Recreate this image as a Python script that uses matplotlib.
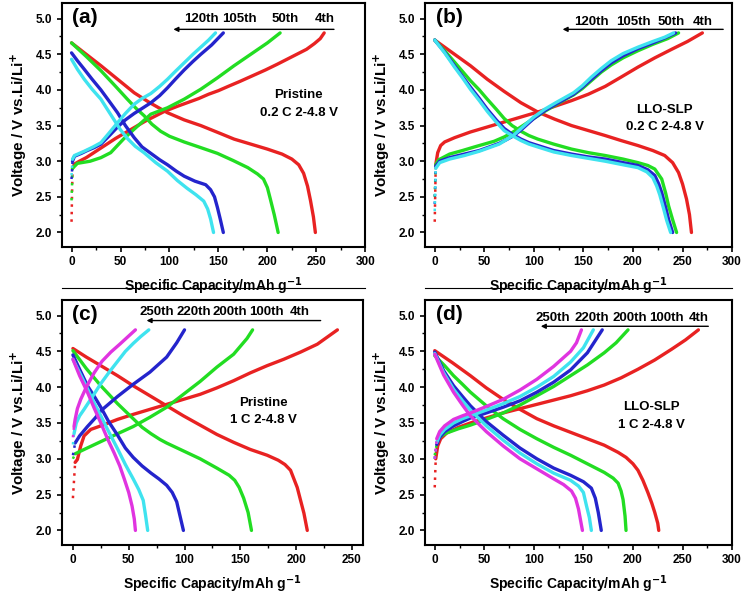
"""Charge/discharge profiles, pristine vs LLO-SLP, 0.2 C and 1 C."""

import matplotlib

matplotlib.use("Agg")
import matplotlib.pyplot as plt
from matplotlib.lines import Line2D
from matplotlib.ticker import MultipleLocator

plt.rcParams["font.family"] = ["Liberation Sans", "DejaVu Sans"]
plt.rcParams["font.weight"] = "bold"

RED = "#e82222"
GREEN = "#22dd22"
BLUE = "#2424cc"
CYAN = "#3fe3ef"
MAGENTA = "#e034e0"

# (capacity mAh/g, voltage V) points
# ---- (a) pristine 0.2 C
A_4TH_CH = [(0, 2.15), (1, 2.9), (3, 2.96), (8, 3.0), (15, 3.05), (25, 3.14), (35, 3.23), (45, 3.32),
            (55, 3.4), (65, 3.48), (75, 3.56), (85, 3.63), (95, 3.7), (108, 3.77), (120, 3.83), (130, 3.88),
            (140, 3.94), (150, 3.99), (160, 4.05), (172, 4.12), (185, 4.2), (198, 4.28), (210, 4.36),
            (220, 4.43), (230, 4.5), (240, 4.57), (248, 4.65), (254, 4.72), (258, 4.8)]
A_4TH_DIS = [(0, 4.66), (15, 4.5), (30, 4.34), (47, 4.15), (64, 3.96), (80, 3.82), (98, 3.68), (115, 3.58),
             (132, 3.5), (150, 3.4), (166, 3.31), (183, 3.24), (200, 3.17), (215, 3.1), (225, 3.03),
             (232, 2.95), (237, 2.83), (241, 2.65), (244, 2.45), (247, 2.22), (249, 2.0)]
A_50TH_CH = [(0, 2.45), (1, 2.9), (6, 2.97), (19, 3.0), (30, 3.05), (40, 3.12), (53, 3.31), (64, 3.45),
             (81, 3.66), (98, 3.75), (115, 3.87), (132, 4.01), (149, 4.17), (166, 4.34), (183, 4.5),
             (200, 4.66), (213, 4.8)]
A_50TH_DIS = [(0, 4.66), (15, 4.47), (30, 4.27), (45, 4.05), (57, 3.87), (66, 3.74), (74, 3.64), (82, 3.52),
              (91, 3.42), (100, 3.35), (115, 3.27), (130, 3.2), (149, 3.11), (165, 3.01), (180, 2.91),
              (190, 2.82), (196, 2.75), (200, 2.63), (203, 2.47), (207, 2.25), (211, 2.0)]
A_105TH_CH = [(0, 2.75), (1, 3.0), (3, 3.07), (10, 3.11), (16, 3.15), (23, 3.19), (30, 3.24), (38, 3.35),
              (47, 3.48), (55, 3.58), (64, 3.67), (72, 3.74), (81, 3.82), (90, 3.92), (98, 4.03),
              (106, 4.15), (115, 4.28), (124, 4.4), (132, 4.5), (143, 4.63), (155, 4.8)]
A_105TH_DIS = [(0, 4.52), (6, 4.41), (13, 4.29), (21, 4.15), (30, 4.0), (38, 3.85), (47, 3.68), (55, 3.5),
               (64, 3.33), (72, 3.2), (81, 3.11), (90, 3.02), (98, 2.95), (107, 2.86), (115, 2.79),
               (126, 2.72), (137, 2.67), (142, 2.6), (146, 2.5), (149, 2.35), (152, 2.18), (155, 2.0)]
A_120TH_CH = [(0, 2.8), (1, 3.03), (3, 3.08), (8, 3.11), (13, 3.14), (22, 3.2), (30, 3.26), (38, 3.39),
              (47, 3.54), (55, 3.67), (64, 3.8), (72, 3.88), (81, 3.95), (90, 4.05), (98, 4.15),
              (106, 4.26), (115, 4.38), (124, 4.5), (132, 4.6), (140, 4.7), (147, 4.8)]
A_120TH_DIS = [(0, 4.43), (6, 4.29), (13, 4.15), (21, 4.01), (30, 3.87), (36, 3.74), (43, 3.59), (50, 3.44),
               (57, 3.32), (65, 3.21), (74, 3.12), (86, 2.98), (98, 2.86), (108, 2.73), (118, 2.62),
               (127, 2.53), (135, 2.44), (139, 2.33), (142, 2.19), (145, 2.0)]

# ---- (b) LLO-SLP 0.2 C
B_4TH_CH = [(0, 2.15), (1, 2.95), (3, 3.12), (6, 3.22), (10, 3.27), (20, 3.33), (36, 3.41), (53, 3.48),
            (70, 3.55), (87, 3.62), (104, 3.69), (121, 3.77), (138, 3.85), (155, 3.94), (172, 4.05),
            (188, 4.18), (205, 4.32), (222, 4.45), (239, 4.57), (255, 4.68), (270, 4.8)]
B_4TH_DIS = [(0, 4.7), (18, 4.52), (36, 4.34), (53, 4.15), (70, 3.98), (87, 3.82), (104, 3.69),
             (121, 3.59), (138, 3.5), (155, 3.43), (172, 3.36), (188, 3.29), (205, 3.22), (220, 3.15),
             (232, 3.08), (240, 2.98), (246, 2.84), (250, 2.68), (254, 2.47), (257, 2.25), (259, 2.0)]
B_50TH_CH = [(0, 2.5), (1, 2.95), (4, 3.02), (15, 3.1), (28, 3.15), (40, 3.2), (50, 3.24), (60, 3.28),
             (70, 3.34), (78, 3.4), (89, 3.5), (100, 3.6), (111, 3.7), (122, 3.79), (132, 3.87), (140, 3.93),
             (149, 4.02), (158, 4.13), (168, 4.25), (178, 4.35), (190, 4.45), (205, 4.55), (220, 4.64),
             (235, 4.72), (246, 4.8)]
B_50TH_DIS = [(0, 4.7), (10, 4.55), (20, 4.39), (28, 4.26), (36, 4.13), (45, 4.0), (53, 3.87), (62, 3.73),
              (70, 3.6), (78, 3.5), (87, 3.42), (95, 3.36), (104, 3.31), (120, 3.24), (138, 3.17),
              (155, 3.12), (172, 3.08), (190, 3.03), (205, 2.98), (215, 2.94), (222, 2.89), (229, 2.75),
              (233, 2.55), (236, 2.37), (240, 2.18), (244, 2.0)]
B_105TH_CH = [(0, 2.4), (1, 2.93), (5, 3.0), (15, 3.05), (30, 3.1), (45, 3.15), (55, 3.2), (65, 3.25),
              (72, 3.3), (80, 3.36), (88, 3.45), (100, 3.6), (111, 3.71), (122, 3.8), (131, 3.87),
              (140, 3.94), (149, 4.04), (158, 4.15), (168, 4.27), (178, 4.38), (190, 4.48), (205, 4.58),
              (220, 4.66), (232, 4.73), (243, 4.8)]
B_105TH_DIS = [(0, 4.7), (10, 4.53), (20, 4.34), (28, 4.19), (36, 4.04), (45, 3.88), (53, 3.73),
               (62, 3.58), (70, 3.46), (78, 3.38), (87, 3.31), (95, 3.26), (104, 3.22), (120, 3.15),
               (138, 3.1), (155, 3.06), (172, 3.03), (190, 2.98), (205, 2.94), (215, 2.88), (222, 2.8),
               (226, 2.68), (229, 2.56), (233, 2.35), (236, 2.18), (240, 2.0)]
B_120TH_CH = [(0, 2.3), (1, 2.9), (5, 2.98), (15, 3.03), (30, 3.08), (45, 3.14), (55, 3.19), (65, 3.24),
              (72, 3.3), (80, 3.37), (88, 3.47), (100, 3.62), (111, 3.73), (122, 3.82), (131, 3.89),
              (140, 3.96), (149, 4.06), (158, 4.18), (168, 4.3), (178, 4.41), (190, 4.51), (205, 4.6),
              (220, 4.68), (232, 4.74), (241, 4.8)]
B_120TH_DIS = [(0, 4.7), (10, 4.52), (20, 4.32), (28, 4.17), (36, 4.01), (45, 3.85), (53, 3.7),
               (62, 3.55), (70, 3.43), (78, 3.36), (87, 3.29), (95, 3.24), (104, 3.2), (120, 3.13),
               (138, 3.08), (155, 3.04), (172, 3.0), (190, 2.95), (205, 2.91), (214, 2.85), (220, 2.77),
               (224, 2.65), (227, 2.53), (231, 2.33), (234, 2.17), (238, 2.0)]

# ---- (c) pristine 1 C
C_4TH_CH = [(0, 2.45), (2, 2.95), (4, 2.99), (7, 3.18), (10, 3.32), (16, 3.41), (25, 3.46), (40, 3.55),
            (54, 3.62), (69, 3.69), (84, 3.76), (99, 3.83), (114, 3.9), (129, 3.99), (144, 4.09),
            (159, 4.2), (174, 4.3), (189, 4.39), (204, 4.49), (219, 4.6), (228, 4.7), (237, 4.8)]
C_4TH_DIS = [(0, 4.54), (12, 4.42), (25, 4.3), (40, 4.16), (54, 4.02), (69, 3.88), (84, 3.74), (99, 3.6),
             (114, 3.47), (129, 3.34), (144, 3.23), (159, 3.13), (174, 3.05), (184, 2.98), (190, 2.92),
             (195, 2.84), (198, 2.72), (201, 2.6), (204, 2.42), (207, 2.24), (210, 2.0)]
C_100TH_CH = [(0, 3.0), (2, 3.07), (10, 3.13), (25, 3.24), (40, 3.35), (54, 3.45), (69, 3.58), (84, 3.72),
              (99, 3.9), (114, 4.08), (129, 4.28), (144, 4.46), (156, 4.68), (161, 4.8)]
C_100TH_DIS = [(0, 4.51), (12, 4.26), (25, 4.02), (40, 3.77), (54, 3.56), (62, 3.44), (70, 3.35),
               (78, 3.27), (84, 3.22), (99, 3.11), (114, 3.0), (129, 2.87), (140, 2.77), (145, 2.7),
               (149, 2.6), (153, 2.45), (157, 2.25), (160, 2.0)]
C_200TH_CH = [(0, 3.05), (2, 3.22), (6, 3.32), (13, 3.45), (20, 3.57), (25, 3.67), (40, 3.87), (54, 4.04),
              (69, 4.21), (84, 4.42), (93, 4.62), (100, 4.8)]
C_200TH_DIS = [(0, 4.45), (6, 4.25), (13, 4.02), (20, 3.85), (25, 3.72), (32, 3.52), (40, 3.33), (47, 3.15),
               (54, 3.02), (62, 2.9), (70, 2.8), (77, 2.72), (84, 2.63), (89, 2.53), (93, 2.4), (96, 2.2),
               (99, 2.0)]
C_220TH_CH = [(0, 3.2), (1, 3.35), (3, 3.5), (6, 3.6), (10, 3.69), (18, 3.88), (25, 4.05), (33, 4.22),
              (40, 4.36), (47, 4.5), (54, 4.61), (61, 4.71), (68, 4.8)]
C_220TH_DIS = [(0, 4.39), (6, 4.2), (13, 3.98), (19, 3.78), (25, 3.6), (32, 3.38), (40, 3.14), (47, 2.92),
               (54, 2.72), (59, 2.57), (63, 2.42), (65, 2.22), (67, 2.0)]
C_250TH_CH = [(0, 3.3), (1, 3.45), (2, 3.55), (4, 3.7), (7, 3.83), (12, 4.0), (19, 4.2), (26, 4.36),
              (34, 4.49), (42, 4.6), (49, 4.7), (56, 4.8)]
C_250TH_DIS = [(0, 4.39), (6, 4.16), (13, 3.93), (19, 3.71), (25, 3.5), (31, 3.28), (37, 3.08), (42, 2.9),
               (46, 2.72), (50, 2.53), (53, 2.34), (55, 2.16), (56, 2.0)]

# ---- (d) LLO-SLP 1 C
D_4TH_CH = [(0, 2.6), (1, 3.0), (3, 3.18), (6, 3.28), (12, 3.36), (24, 3.44), (36, 3.5), (52, 3.57),
            (69, 3.64), (86, 3.7), (103, 3.76), (120, 3.82), (137, 3.88), (154, 3.95), (171, 4.03),
            (188, 4.13), (205, 4.25), (222, 4.38), (239, 4.53), (253, 4.66), (266, 4.8)]
D_4TH_DIS = [(0, 4.51), (18, 4.34), (36, 4.16), (52, 3.99), (69, 3.83), (86, 3.69), (103, 3.56),
             (120, 3.46), (137, 3.37), (154, 3.28), (171, 3.19), (185, 3.09), (193, 3.02), (200, 2.93),
             (205, 2.84), (210, 2.7), (215, 2.53), (219, 2.38), (222, 2.25), (225, 2.1), (226, 2.0)]
D_100TH_CH = [(0, 3.05), (3, 3.28), (8, 3.33), (12, 3.36), (24, 3.42), (36, 3.47), (52, 3.55), (69, 3.64),
              (86, 3.75), (103, 3.88), (120, 4.01), (137, 4.16), (154, 4.31), (171, 4.48), (183, 4.62),
              (195, 4.8)]
D_100TH_DIS = [(0, 4.44), (10, 4.3), (19, 4.16), (28, 4.04), (36, 3.93), (52, 3.74), (69, 3.56),
               (86, 3.41), (103, 3.28), (120, 3.16), (137, 3.05), (154, 2.93), (171, 2.81), (180, 2.73),
               (185, 2.66), (188, 2.55), (190, 2.43), (192, 2.2), (193, 2.0)]
D_200TH_CH = [(0, 3.0), (2, 3.2), (5, 3.3), (10, 3.38), (19, 3.46), (28, 3.52), (36, 3.57), (52, 3.64),
              (69, 3.72), (86, 3.81), (103, 3.93), (120, 4.07), (137, 4.24), (154, 4.48), (169, 4.8)]
D_200TH_DIS = [(0, 4.49), (9, 4.23), (19, 4.02), (28, 3.87), (36, 3.74), (52, 3.52), (69, 3.33),
               (86, 3.15), (103, 3.0), (120, 2.87), (137, 2.77), (150, 2.68), (158, 2.59), (162, 2.45),
               (165, 2.25), (168, 2.0)]
D_220TH_CH = [(0, 3.0), (2, 3.23), (5, 3.33), (10, 3.41), (19, 3.5), (28, 3.56), (36, 3.6), (52, 3.68),
              (69, 3.77), (86, 3.87), (103, 4.0), (120, 4.15), (137, 4.35), (150, 4.55), (160, 4.8)]
D_220TH_DIS = [(0, 4.47), (9, 4.2), (19, 3.97), (28, 3.81), (36, 3.68), (52, 3.46), (69, 3.26),
               (86, 3.08), (103, 2.93), (120, 2.8), (137, 2.7), (145, 2.62), (150, 2.53), (153, 2.35),
               (156, 2.18), (158, 2.0)]
D_250TH_CH = [(0, 3.0), (2, 3.28), (5, 3.38), (10, 3.46), (19, 3.55), (28, 3.6), (36, 3.64), (52, 3.73),
              (69, 3.83), (86, 3.96), (103, 4.11), (120, 4.29), (137, 4.5), (143, 4.62), (148, 4.8)]
D_250TH_DIS = [(0, 4.46), (9, 4.17), (19, 3.93), (28, 3.75), (36, 3.6), (52, 3.38), (69, 3.18),
               (86, 3.0), (103, 2.86), (120, 2.72), (130, 2.64), (138, 2.55), (142, 2.45), (145, 2.3),
               (147, 2.15), (149, 2.0)]

PANELS = [
    {
        "tag": "(a)", "xmax": 300, "sample": "Pristine\n0.2 C 2-4.8 V", "note_xy": (232, 3.8),
        "curves": [(A_4TH_CH, A_4TH_DIS, RED), (A_50TH_CH, A_50TH_DIS, GREEN),
                   (A_105TH_CH, A_105TH_DIS, BLUE), (A_120TH_CH, A_120TH_DIS, CYAN)],
        "cycles": ["120th", "105th", "50th", "4th"], "cycle_x": [133, 171, 218, 259],
        "cycle_y": 4.99, "arrow": (268, 104, 4.85),
    },
    {
        "tag": "(b)", "xmax": 300, "sample": "LLO-SLP\n0.2 C 2-4.8 V", "note_xy": (232, 3.6),
        "curves": [(B_4TH_CH, B_4TH_DIS, RED), (B_50TH_CH, B_50TH_DIS, GREEN),
                   (B_105TH_CH, B_105TH_DIS, BLUE), (B_120TH_CH, B_120TH_DIS, CYAN)],
        "cycles": ["120th", "105th", "50th", "4th"], "cycle_x": [158, 200, 239, 270],
        "cycle_y": 4.96, "arrow": (291, 129, 4.85),
    },
    {
        "tag": "(c)", "xmax": 260, "sample": "Pristine\n1 C 2-4.8 V", "note_xy": (171, 3.66),
        "curves": [(C_4TH_CH, C_4TH_DIS, RED), (C_100TH_CH, C_100TH_DIS, GREEN),
                   (C_200TH_CH, C_200TH_DIS, BLUE), (C_220TH_CH, C_220TH_DIS, CYAN),
                   (C_250TH_CH, C_250TH_DIS, MAGENTA)],
        "cycles": ["250th", "220th", "200th", "100th", "4th"], "cycle_x": [75, 108, 141, 173, 203],
        "cycle_y": 5.05, "arrow": (222, 66, 4.93),
    },
    {
        "tag": "(d)", "xmax": 300, "sample": "LLO-SLP\n1 C 2-4.8 V", "note_xy": (219, 3.6),
        "curves": [(D_4TH_CH, D_4TH_DIS, RED), (D_100TH_CH, D_100TH_DIS, GREEN),
                   (D_200TH_CH, D_200TH_DIS, BLUE), (D_220TH_CH, D_220TH_DIS, CYAN),
                   (D_250TH_CH, D_250TH_DIS, MAGENTA)],
        "cycles": ["250th", "220th", "200th", "100th", "4th"], "cycle_x": [119, 158, 197, 234, 266],
        "cycle_y": 4.96, "arrow": (276, 107, 4.85),
    },
]

# axes rectangles in figure fractions (left, bottom, width, height)
AXES_RECTS = [
    (0.083, 0.586, 0.408, 0.409),
    (0.571, 0.586, 0.413, 0.409),
    (0.083, 0.086, 0.405, 0.411),
    (0.571, 0.086, 0.413, 0.411),
]


def draw_panel(ax, panel):
    for charge, discharge, color in panel["curves"]:
        cx = [p[0] for p in charge]
        cv = [p[1] for p in charge]
        dx = [p[0] for p in discharge]
        dv = [p[1] for p in discharge]
        # low-voltage start of the charge is sparse dots
        ax.plot(cx[:2], cv[:2], color=color, lw=1.8, ls=(0, (1, 2)), solid_capstyle="round")
        ax.plot(cx[1:], cv[1:], color=color, lw=2.4, solid_joinstyle="round", solid_capstyle="round")
        ax.plot(dx, dv, color=color, lw=2.4, solid_joinstyle="round", solid_capstyle="round")

    ax.set_xlim(-10, panel["xmax"])
    ax.set_ylim(1.8, 5.22)
    ax.xaxis.set_major_locator(MultipleLocator(50))
    ax.xaxis.set_minor_locator(MultipleLocator(25))
    ax.yaxis.set_major_locator(MultipleLocator(0.5))
    ax.yaxis.set_minor_locator(MultipleLocator(0.25))
    ax.yaxis.set_major_formatter(plt.FormatStrFormatter("%.1f"))
    ax.tick_params(which="major", direction="out", length=3.5, width=1.2, labelsize=8.5)
    ax.tick_params(which="minor", direction="out", length=2, width=1.0)
    for label in ax.get_xticklabels() + ax.get_yticklabels():
        label.set_fontweight("bold")
    for spine in ax.spines.values():
        spine.set_linewidth(1.5)

    ax.set_xlabel("Specific Capacity/mAh g$^{\\mathbf{-1}}$", fontsize=10, fontweight="bold", labelpad=5)
    ax.set_ylabel("Voltage / V vs.Li/Li$^{\\mathbf{+}}$", fontsize=11, fontweight="bold", labelpad=5)

    ax.text(0.035, 0.98, panel["tag"], transform=ax.transAxes, fontsize=15, fontweight="bold",
            ha="left", va="top")
    nx, ny = panel["note_xy"]
    ax.text(nx, ny, panel["sample"], fontsize=9.5, fontweight="bold", ha="center", va="center",
            linespacing=1.6)

    for label, lx in zip(panel["cycles"], panel["cycle_x"]):
        ax.text(lx, panel["cycle_y"], label, fontsize=9.5, fontweight="bold", ha="center", va="center")
    x_start, x_end, y_arrow = panel["arrow"]
    ax.annotate("", xy=(x_end, y_arrow), xytext=(x_start, y_arrow),
                arrowprops=dict(arrowstyle="-|>", color="black", lw=1.0, mutation_scale=7,
                                shrinkA=0, shrinkB=0))


def main():
    fig = plt.figure(figsize=(7.44, 5.96), dpi=100)
    for rect, panel in zip(AXES_RECTS, PANELS):
        ax = fig.add_axes(rect)
        draw_panel(ax, panel)

    # thin rule left under the top row in the source figure
    for x0, x1 in [(0.083, 0.491), (0.571, 0.984)]:
        fig.add_artist(Line2D([x0, x1], [0.517, 0.517], color="black", lw=0.8,
                              transform=fig.transFigure))

    fig.savefig("out.png", dpi=100)
    plt.close(fig)


if __name__ == "__main__":
    main()
